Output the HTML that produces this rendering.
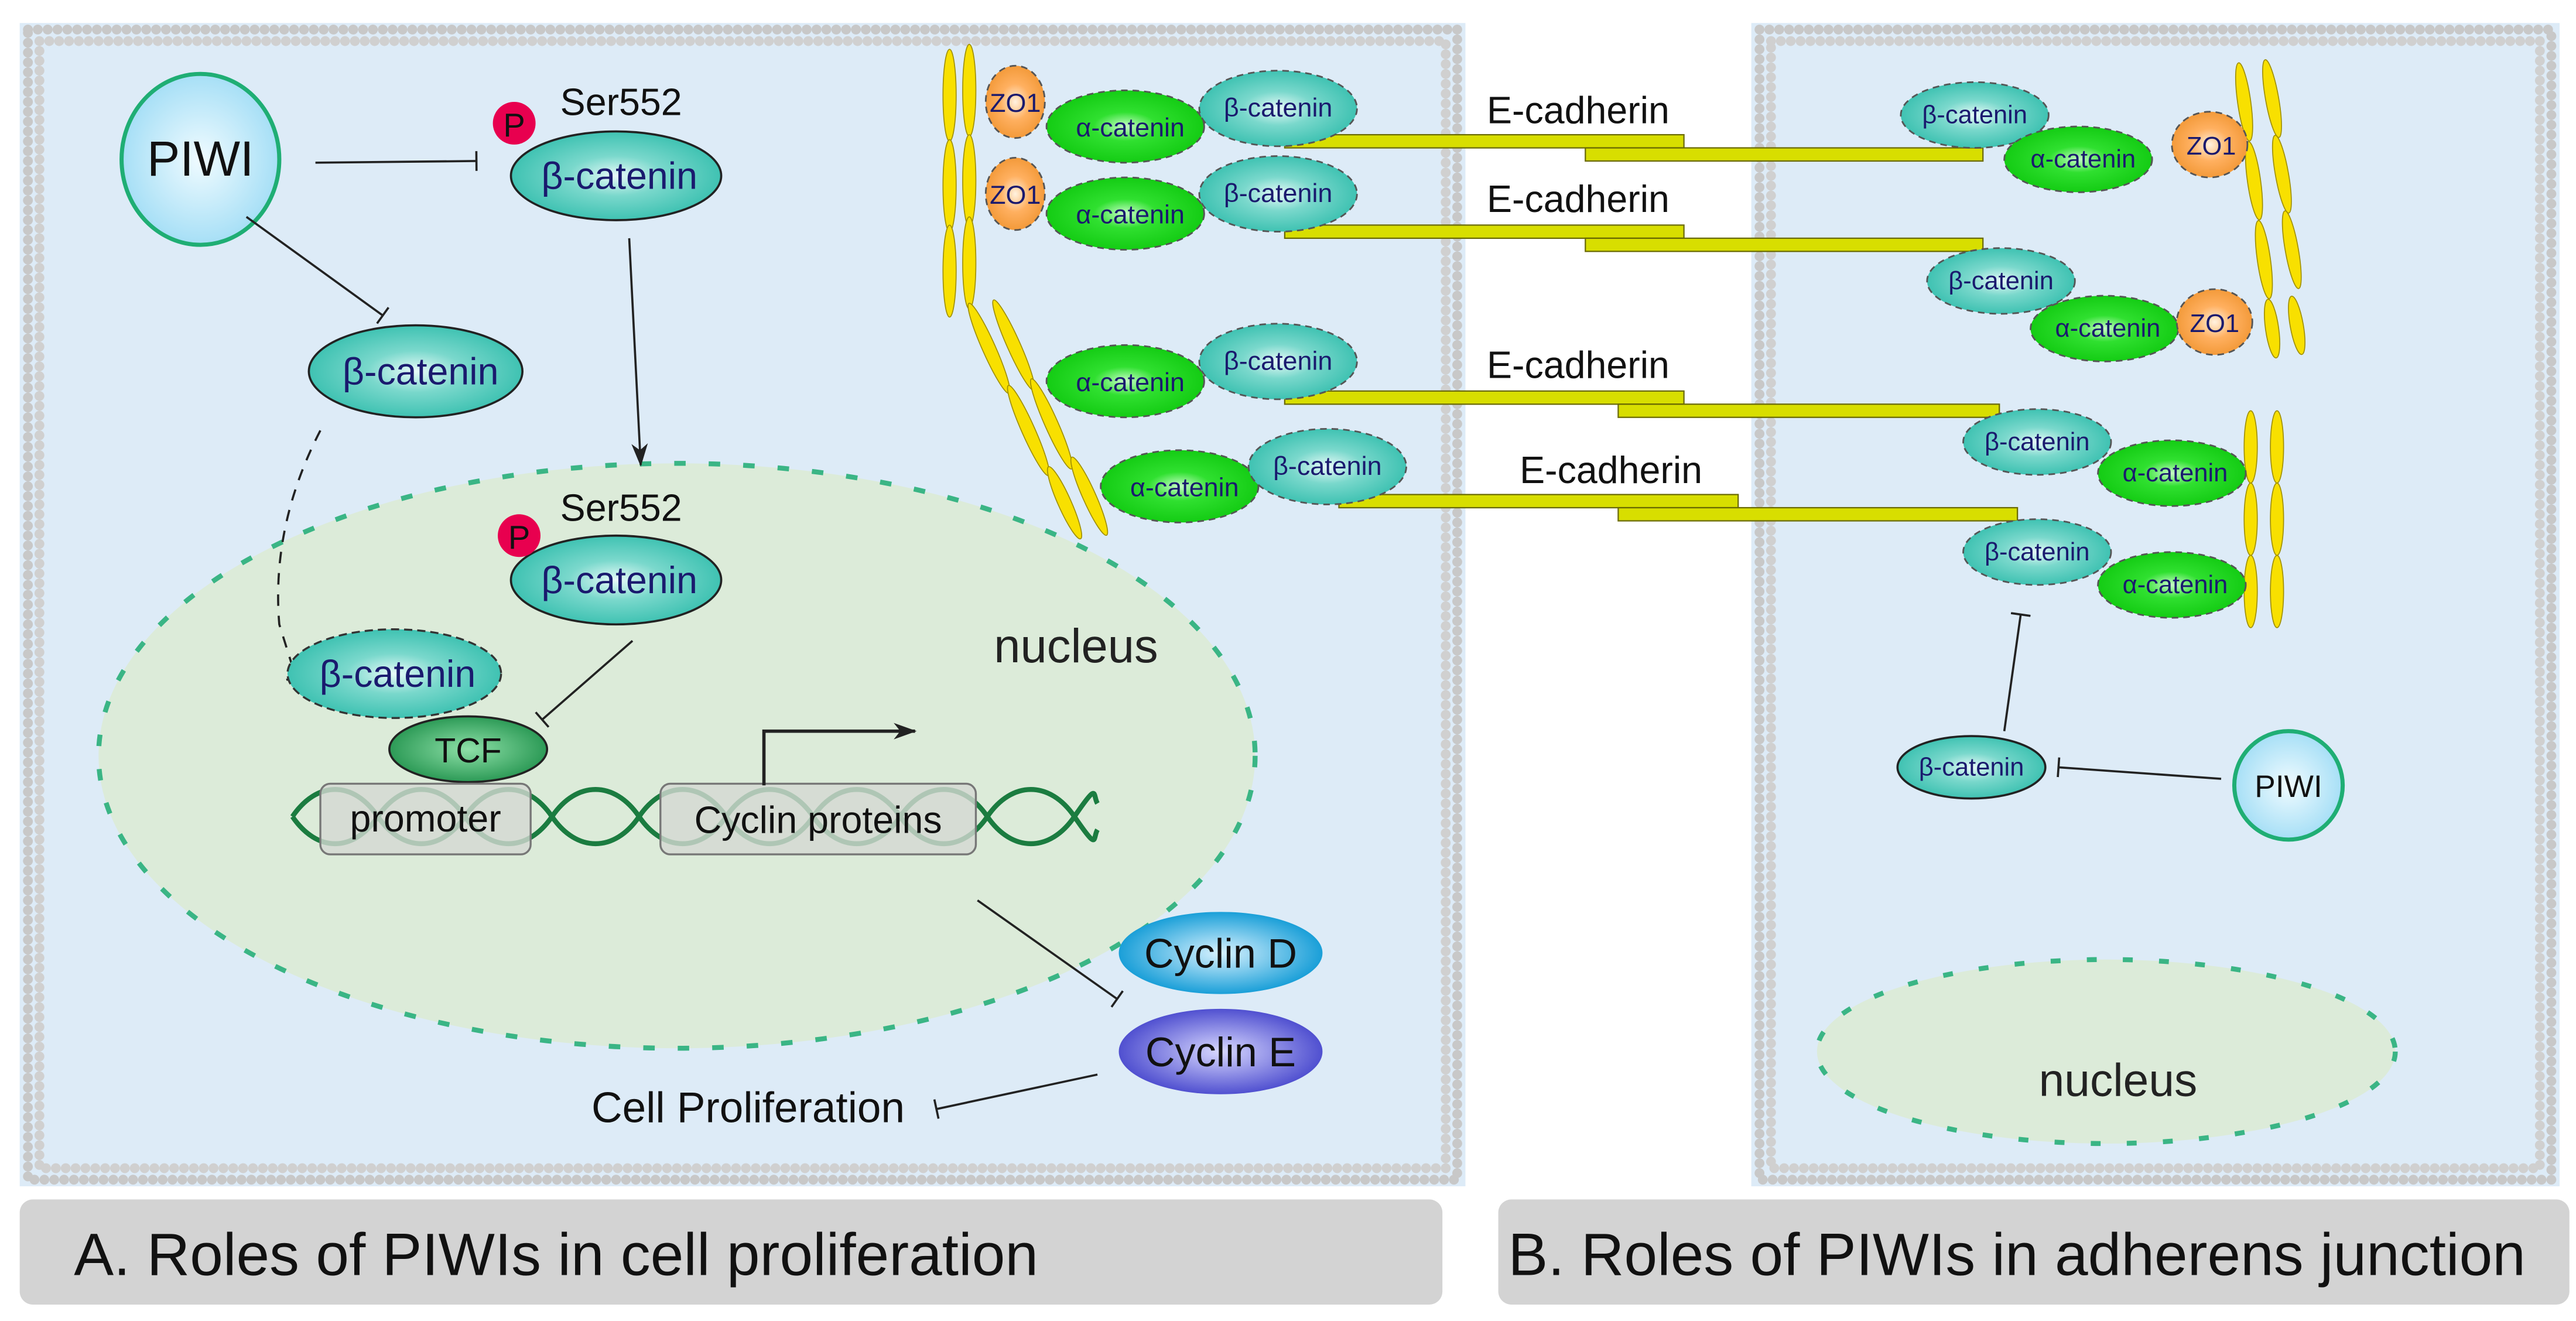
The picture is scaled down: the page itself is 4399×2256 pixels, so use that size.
<!DOCTYPE html>
<html><head><meta charset="utf-8"><style>
html,body{margin:0;padding:0;background:#fff;}
svg{display:block;}
text{font-family:"Liberation Sans",sans-serif;}
</style></head><body>
<svg width="4399" height="2256" viewBox="0 0 1568 804" preserveAspectRatio="none" xmlns="http://www.w3.org/2000/svg">
<defs>
<radialGradient id="gT"><stop offset="0" stop-color="#e8fbf8"/><stop offset="0.45" stop-color="#7ad8cc"/><stop offset="1" stop-color="#3fc2b2"/></radialGradient>
<radialGradient id="gA"><stop offset="0" stop-color="#c8ffc8"/><stop offset="0.4" stop-color="#30e030"/><stop offset="1" stop-color="#14cc14"/></radialGradient>
<radialGradient id="gO"><stop offset="0" stop-color="#fff2e0"/><stop offset="0.5" stop-color="#ffb060"/><stop offset="1" stop-color="#f39a3a"/></radialGradient>
<radialGradient id="gP"><stop offset="0" stop-color="#f0fbff"/><stop offset="1" stop-color="#a6dff6"/></radialGradient>
<radialGradient id="gD"><stop offset="0" stop-color="#d8f2ff"/><stop offset="1" stop-color="#1a9fd8"/></radialGradient>
<radialGradient id="gE"><stop offset="0" stop-color="#d8d8ff"/><stop offset="1" stop-color="#5050d0"/></radialGradient>
<radialGradient id="gTCF"><stop offset="0" stop-color="#8ee0a8"/><stop offset="1" stop-color="#2c9a56"/></radialGradient>
<marker id="bar" markerWidth="4" markerHeight="12" refX="2" refY="6" orient="auto" markerUnits="userSpaceOnUse"><line x1="2" y1="0" x2="2" y2="12" stroke="#222" stroke-width="1.3"/></marker>
<marker id="arr" markerWidth="14" markerHeight="10" refX="13" refY="5" orient="auto" markerUnits="userSpaceOnUse"><path d="M0,0 L14,5 L0,10 L4,5 z" fill="#222"/></marker>
</defs>

<!-- cell A -->
<rect x="12" y="14" width="880" height="708" fill="#ddebf7"/>
<rect x="17" y="18" width="870" height="700" fill="none" stroke="#c8c8c8" stroke-width="6" stroke-dasharray="0 6" stroke-linecap="round"/>
<rect x="24" y="25" width="856" height="686" fill="none" stroke="#d0d0d0" stroke-width="6" stroke-dasharray="0 6" stroke-linecap="round"/>
<rect x="28" y="29" width="848" height="678" fill="#ddebf7"/>
<!-- cell B -->
<rect x="1066" y="14" width="492" height="708" fill="#ddebf7"/>
<rect x="1071" y="18" width="482" height="700" fill="none" stroke="#c8c8c8" stroke-width="6" stroke-dasharray="0 6" stroke-linecap="round"/>
<rect x="1078" y="25" width="468" height="686" fill="none" stroke="#d0d0d0" stroke-width="6" stroke-dasharray="0 6" stroke-linecap="round"/>
<rect x="1082" y="29" width="460" height="678" fill="#ddebf7"/>

<!-- captions -->
<rect x="12" y="730" width="866" height="64" rx="8" fill="#d3d3d3"/>
<text x="45" y="776" font-size="36.3" fill="#111">A. Roles of PIWIs in cell proliferation</text>
<rect x="912" y="730" width="652" height="64" rx="8" fill="#d3d3d3"/>
<text x="918" y="776" font-size="36.3" fill="#111">B. Roles of PIWIs in adherens junction</text>

<!-- nucleus A -->
<ellipse cx="412" cy="460" rx="352" ry="178" fill="#dcebd9"/>
<ellipse cx="412" cy="460" rx="352" ry="178" fill="none" stroke="#3ab585" stroke-width="3" stroke-dasharray="7 14"/>
<text x="605" y="403" font-size="29" fill="#222">nucleus</text>

<!-- PIWI A -->
<ellipse cx="122" cy="97" rx="48" ry="52" fill="url(#gP)" stroke="#1fae74" stroke-width="2.5"/>
<text x="122" y="107" font-size="30" text-anchor="middle" fill="#111">PIWI</text>
<line x1="192" y1="99" x2="290" y2="98" stroke="#222" stroke-width="1.3" marker-end="url(#bar)"/>
<line x1="150" y1="132" x2="233" y2="192" stroke="#222" stroke-width="1.3" marker-end="url(#bar)"/>

<ellipse cx="375" cy="107" rx="64" ry="27" fill="url(#gT)" stroke="#222" stroke-width="1.3"/>
<text x="377" y="115" font-size="23" text-anchor="middle" fill="#1a1a6e">β-catenin</text>
<circle cx="313" cy="75" r="13" fill="#e8004f"/>
<text x="313" y="83" font-size="20" text-anchor="middle" fill="#111">P</text>
<text x="341" y="70" font-size="23" fill="#111">Ser552</text>
<line x1="383" y1="145" x2="390" y2="283" stroke="#222" stroke-width="1.3" marker-end="url(#arr)"/>

<ellipse cx="253" cy="226" rx="65" ry="28" fill="url(#gT)" stroke="#222" stroke-width="1.3"/>
<text x="256" y="234" font-size="23" text-anchor="middle" fill="#1a1a6e">β-catenin</text>
<path d="M195,262 Q165,320 170,380 L180,412" fill="none" stroke="#222" stroke-width="1.3" stroke-dasharray="7 6" marker-end="url(#bar)"/>

<ellipse cx="375" cy="353" rx="64" ry="27" fill="url(#gT)" stroke="#222" stroke-width="1.3"/>
<text x="377" y="361" font-size="23" text-anchor="middle" fill="#1a1a6e">β-catenin</text>
<circle cx="316" cy="326" r="13" fill="#e8004f"/>
<text x="316" y="334" font-size="20" text-anchor="middle" fill="#111">P</text>
<text x="341" y="317" font-size="23" fill="#111">Ser552</text>
<line x1="385" y1="390" x2="330" y2="438" stroke="#222" stroke-width="1.3" marker-end="url(#bar)"/>

<ellipse cx="240" cy="410" rx="65" ry="27" fill="url(#gT)" stroke="#333" stroke-width="1.2" stroke-dasharray="5 3"/>
<text x="242" y="418" font-size="23" text-anchor="middle" fill="#1a1a6e">β-catenin</text>
<ellipse cx="285" cy="456" rx="48" ry="20" fill="url(#gTCF)" stroke="#222" stroke-width="1.3"/>
<text x="285" y="464" font-size="21" text-anchor="middle" fill="#111">TCF</text>

<!-- DNA -->
<path d="M178,497 C193,475 215,475 230,497 S268,519 283,497 S321,475 336,497 S374,519 389,497 S427,475 442,497 S480,519 495,497 S533,475 548,497 S586,519 601,497 S639,475 654,497 S665,510 668,505" fill="none" stroke="#1b7c40" stroke-width="3"/>
<path d="M178,497 C193,519 215,519 230,497 S268,475 283,497 S321,519 336,497 S374,475 389,497 S427,519 442,497 S480,475 495,497 S533,519 548,497 S586,475 601,497 S639,519 654,497 S665,484 668,489" fill="none" stroke="#1b7c40" stroke-width="3"/>
<rect x="195" y="477" width="128" height="43" rx="6" fill="#d5d8d2" fill-opacity="0.8" stroke="#777" stroke-width="1.2"/>
<text x="259" y="506" font-size="23" text-anchor="middle" fill="#111">promoter</text>
<rect x="402" y="477" width="192" height="43" rx="6" fill="#d5d8d2" fill-opacity="0.8" stroke="#777" stroke-width="1.2"/>
<text x="498" y="507" font-size="23" text-anchor="middle" fill="#111">Cyclin proteins</text>
<path d="M465,478 L465,445 L557,445" fill="none" stroke="#222" stroke-width="2" marker-end="url(#arr)"/>

<line x1="595" y1="548" x2="680" y2="608" stroke="#222" stroke-width="1.3" marker-end="url(#bar)"/>
<ellipse cx="743" cy="580" rx="62" ry="25" fill="url(#gD)"/>
<text x="743" y="589" font-size="25" text-anchor="middle" fill="#111">Cyclin D</text>
<ellipse cx="743" cy="640" rx="62" ry="26" fill="url(#gE)"/>
<text x="743" y="649" font-size="25" text-anchor="middle" fill="#111">Cyclin E</text>
<line x1="668" y1="654" x2="570" y2="675" stroke="#222" stroke-width="1.3" marker-end="url(#bar)"/>
<text x="360" y="683" font-size="26" fill="#111">Cell Proliferation</text>

<!-- actin left -->
<g fill="#f8e000" stroke="#a09000" stroke-width="0.6">
<ellipse cx="578" cy="58" rx="4" ry="28"/><ellipse cx="578" cy="113" rx="4" ry="28"/><ellipse cx="578" cy="165" rx="4" ry="28"/>
<ellipse cx="590" cy="55" rx="4" ry="28"/><ellipse cx="590" cy="110" rx="4" ry="28"/><ellipse cx="590" cy="160" rx="4" ry="28"/>
<ellipse cx="602" cy="212" rx="4" ry="30" transform="rotate(-24 602 212)"/><ellipse cx="626" cy="262" rx="4" ry="30" transform="rotate(-24 626 262)"/><ellipse cx="648" cy="306" rx="4" ry="24" transform="rotate(-24 648 306)"/>
<ellipse cx="617" cy="210" rx="4" ry="30" transform="rotate(-24 617 210)"/><ellipse cx="640" cy="258" rx="4" ry="30" transform="rotate(-24 640 258)"/><ellipse cx="663" cy="302" rx="4" ry="26" transform="rotate(-24 663 302)"/>
</g>

<!-- E-cadherin bars -->
<g fill="#d8de00" stroke="#6a6a00" stroke-width="0.8">
<rect x="782" y="82" width="243" height="8"/><rect x="965" y="90" width="242" height="8"/>
<rect x="782" y="137" width="243" height="8"/><rect x="965" y="145" width="242" height="8"/>
<rect x="782" y="238" width="243" height="8"/><rect x="985" y="246" width="232" height="8"/>
<rect x="815" y="301" width="243" height="8"/><rect x="985" y="309" width="243" height="8"/>
</g>
<g font-size="23" fill="#111">
<text x="905" y="75">E-cadherin</text><text x="905" y="129">E-cadherin</text>
<text x="905" y="230">E-cadherin</text><text x="925" y="294">E-cadherin</text>
</g>

<!-- left junction proteins -->
<g stroke="#555" stroke-width="1" stroke-dasharray="4 3">
<ellipse cx="618" cy="62" rx="18" ry="22" fill="url(#gO)"/>
<ellipse cx="685" cy="77" rx="48" ry="22" fill="url(#gA)"/>
<ellipse cx="778" cy="66" rx="48" ry="23" fill="url(#gT)"/>
<ellipse cx="618" cy="118" rx="18" ry="22" fill="url(#gO)"/>
<ellipse cx="685" cy="130" rx="48" ry="22" fill="url(#gA)"/>
<ellipse cx="778" cy="118" rx="48" ry="23" fill="url(#gT)"/>
<ellipse cx="685" cy="232" rx="48" ry="22" fill="url(#gA)"/>
<ellipse cx="778" cy="220" rx="48" ry="23" fill="url(#gT)"/>
<ellipse cx="718" cy="296" rx="48" ry="22" fill="url(#gA)"/>
<ellipse cx="808" cy="284" rx="48" ry="23" fill="url(#gT)"/>
</g>
<g font-size="16" text-anchor="middle" fill="#1a1a6e">
<text x="618" y="68">ZO1</text><text x="688" y="83">α-catenin</text><text x="778" y="71">β-catenin</text>
<text x="618" y="124">ZO1</text><text x="688" y="136">α-catenin</text><text x="778" y="123">β-catenin</text>
<text x="688" y="238">α-catenin</text><text x="778" y="225">β-catenin</text>
<text x="721" y="302">α-catenin</text><text x="808" y="289">β-catenin</text>
</g>

<!-- cell B junction proteins -->
<g fill="#f8e000" stroke="#a09000" stroke-width="0.6">
<ellipse cx="1366" cy="62" rx="4" ry="24" transform="rotate(-8 1366 62)"/><ellipse cx="1372" cy="110" rx="4" ry="24" transform="rotate(-8 1372 110)"/><ellipse cx="1378" cy="158" rx="4" ry="24" transform="rotate(-8 1378 158)"/><ellipse cx="1383" cy="200" rx="4" ry="18" transform="rotate(-8 1383 200)"/>
<ellipse cx="1383" cy="60" rx="4" ry="24" transform="rotate(-10 1383 60)"/><ellipse cx="1389" cy="106" rx="4" ry="24" transform="rotate(-10 1389 106)"/><ellipse cx="1395" cy="152" rx="4" ry="24" transform="rotate(-10 1395 152)"/><ellipse cx="1398" cy="198" rx="4" ry="18" transform="rotate(-10 1398 198)"/>
<ellipse cx="1370" cy="272" rx="4" ry="22"/><ellipse cx="1370" cy="316" rx="4" ry="22"/><ellipse cx="1370" cy="360" rx="4" ry="22"/>
<ellipse cx="1386" cy="272" rx="4" ry="22"/><ellipse cx="1386" cy="316" rx="4" ry="22"/><ellipse cx="1386" cy="360" rx="4" ry="22"/>
</g>
<g stroke="#555" stroke-width="1" stroke-dasharray="4 3">
<ellipse cx="1202" cy="70" rx="45" ry="20" fill="url(#gT)"/>
<ellipse cx="1265" cy="97" rx="45" ry="20" fill="url(#gA)"/>
<ellipse cx="1345" cy="88" rx="23" ry="20" fill="url(#gO)"/>
<ellipse cx="1218" cy="171" rx="45" ry="20" fill="url(#gT)"/>
<ellipse cx="1281" cy="200" rx="45" ry="20" fill="url(#gA)"/>
<ellipse cx="1348" cy="196" rx="23" ry="20" fill="url(#gO)"/>
<ellipse cx="1240" cy="269" rx="45" ry="20" fill="url(#gT)"/>
<ellipse cx="1322" cy="288" rx="45" ry="20" fill="url(#gA)"/>
<ellipse cx="1240" cy="336" rx="45" ry="20" fill="url(#gT)"/>
<ellipse cx="1322" cy="356" rx="45" ry="20" fill="url(#gA)"/>
</g>
<g font-size="15.5" text-anchor="middle" fill="#1a1a6e">
<text x="1202" y="75">β-catenin</text><text x="1268" y="102">α-catenin</text><text x="1346" y="94">ZO1</text>
<text x="1218" y="176">β-catenin</text><text x="1283" y="205">α-catenin</text><text x="1348" y="202">ZO1</text>
<text x="1240" y="274">β-catenin</text><text x="1324" y="293">α-catenin</text>
<text x="1240" y="341">β-catenin</text><text x="1324" y="361">α-catenin</text>
</g>
<line x1="1220" y1="445" x2="1230" y2="374" stroke="#222" stroke-width="1.3" marker-end="url(#bar)"/>
<ellipse cx="1200" cy="467" rx="45" ry="19" fill="url(#gT)" stroke="#222" stroke-width="1.3"/>
<text x="1200" y="472" font-size="15.5" text-anchor="middle" fill="#1a1a6e">β-catenin</text>
<line x1="1352" y1="474" x2="1253" y2="467" stroke="#222" stroke-width="1.3" marker-end="url(#bar)"/>
<circle cx="1393" cy="478" r="33" fill="url(#gP)" stroke="#1fae74" stroke-width="2.5"/>
<text x="1393" y="485" font-size="19" text-anchor="middle" fill="#111">PIWI</text>

<ellipse cx="1282" cy="640" rx="176" ry="56" fill="#dcebd9"/>
<ellipse cx="1282" cy="640" rx="176" ry="56" fill="none" stroke="#3ab585" stroke-width="3" stroke-dasharray="6 16"/>
<text x="1241" y="667" font-size="28" fill="#222">nucleus</text>
</svg>
</body></html>
